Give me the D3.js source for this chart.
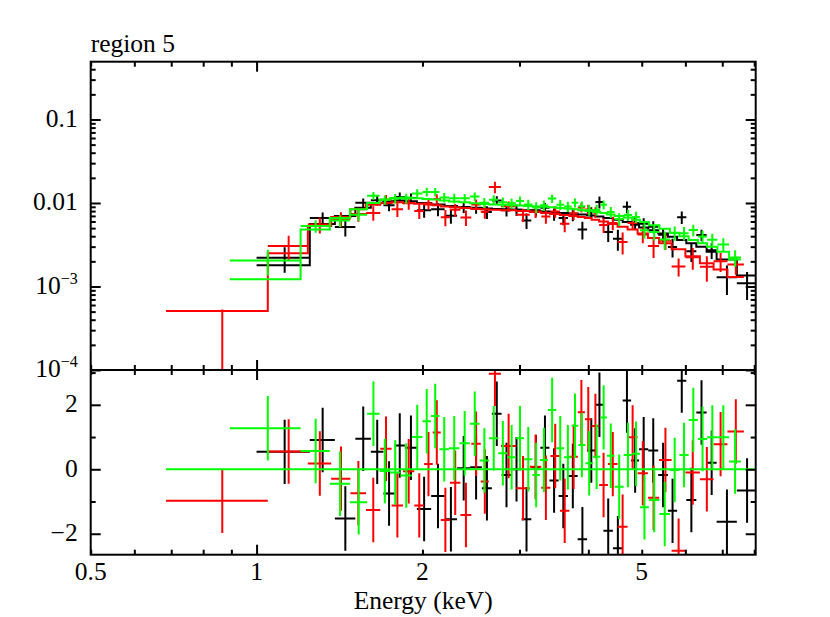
<!DOCTYPE html>
<html>
<head>
<meta charset="utf-8">
<script src="https://cdn.jsdelivr.net/npm/d3@7"></script>
<style>
    body { margin: 0; background: #fff; }
    #spectrum-vis { width: 830px; height: 617px; }
    text { font-family: "Liberation Serif", "Times New Roman", serif; fill: #000; }
</style>
</head>
<body>
<div id="spectrum-vis"></div>
<script>

// Plot title and axis ranges
const plotTitle = "region 5";
const xLabel = "Energy (keV)";
const energyRange = [0.5, 8.05];
const rateRange = [1e-4, 0.492];
const residRange = [-2.65, 3.08];

// Tick labels
const energyTicks = [0.5, 1, 2, 5];
const energyTickLabels = ["0.5", "1", "2", "5"];
const rateTicks = [0.1, 0.01, 0.001, 0.0001];
const rateTickBase = ["0.1", "0.01", "10", "10"];
const rateTickSup = ["", "", "\u22123", "\u22124"];
const residTicks = [-2, 0, 2];
const residTickLabels = ["\u22122", "0", "2"];
const residMinorTicks = [-1, 1, 3];

// Black data set: bin edges (keV), rate, error, folded model, (data-model)/error
const blackEdges = [1.000, 1.249, 1.387, 1.511, 1.612, 1.699, 1.780, 1.858, 1.954, 2.074, 2.194,
    2.311, 2.441, 2.564, 2.673, 2.784, 2.899, 3.027, 3.152, 3.274, 3.400, 3.533, 3.673, 3.825,
    3.979, 4.120, 4.260, 4.433, 4.618, 4.783, 4.945, 5.137, 5.356, 5.578, 5.797, 6.024, 6.281,
    6.557, 6.837, 7.440, 8.090];
const blackData = [0.00221, 0.00660, 0.00516, 0.01004, 0.01076, 0.00941, 0.01181, 0.01151, 0.00816,
    0.00840, 0.00703, 0.00894, 0.00878, 0.00780, 0.01074, 0.00817, 0.00830, 0.00619, 0.00818,
    0.00874, 0.00736, 0.00660, 0.00725, 0.00480, 0.00777, 0.01030, 0.00450, 0.00373, 0.00899,
    0.00576, 0.00566, 0.00519, 0.00416, 0.00298, 0.00676, 0.00265, 0.00413, 0.00272, 0.00129, 0.00109];
const blackErr = [0.00075, 0.00110, 0.00120, 0.00130, 0.00140, 0.00145, 0.00150, 0.00150, 0.00150,
    0.00145, 0.00140, 0.00135, 0.00135, 0.00135, 0.00130, 0.00130, 0.00130, 0.00130, 0.00130,
    0.00125, 0.00125, 0.00120, 0.00120, 0.00115, 0.00115, 0.00170, 0.00110, 0.00105, 0.00145,
    0.00095, 0.00090, 0.00085, 0.00080, 0.00075, 0.00115, 0.00068, 0.00064, 0.00058, 0.00050, 0.00040];
const blackModel = [0.00180, 0.00560, 0.00700, 0.00880, 0.01000, 0.01050, 0.01070, 0.01050, 0.01000,
    0.00960, 0.00920, 0.00890, 0.00870, 0.00860, 0.00850, 0.00840, 0.00830, 0.00820, 0.00810,
    0.00790, 0.00780, 0.00760, 0.00750, 0.00730, 0.00710, 0.00690, 0.00660, 0.00630, 0.00590,
    0.00550, 0.00510, 0.00470, 0.00430, 0.00395, 0.00360, 0.00330, 0.00300, 0.00260, 0.00210, 0.00135];
const blackResid = [0.54, 0.91, -1.53, 0.95, 0.54, -0.75, 0.74, 0.67, -1.23, -0.83, -1.55, 0.03,
    0.06, -0.59, 1.72, -0.18, 0.00, -1.55, 0.06, 0.67, -0.35, -0.83, -0.21, -2.17, 0.58, 2.00,
    -1.91, -2.45, 2.13, 0.27, 0.62, 0.58, -0.18, -1.29, 2.75, -0.95, 1.76, 0.20, -1.63, -0.66];

// Red data set
const redEdges = [0.685, 1.048, 1.239, 1.366, 1.480, 1.580, 1.677, 1.758, 1.844, 1.933, 2.014,
    2.088, 2.159, 2.243, 2.344, 2.453, 2.552, 2.639, 2.776, 2.958, 3.132, 3.286, 3.414, 3.552,
    3.696, 3.828, 3.943, 4.055, 4.185, 4.341, 4.520, 4.713, 4.914, 5.131, 5.376, 5.665, 6.001,
    6.376, 6.751, 7.153, 7.663];
const redData = [0.00001, 0.00305, 0.00552, 0.00642, 0.00736, 0.00761, 0.01096, 0.00841, 0.00990,
    0.00801, 0.00985, 0.01117, 0.00675, 0.00829, 0.00671, 0.00961, 0.00787, 0.01550, 0.00914,
    0.00723, 0.00790, 0.00689, 0.00791, 0.00565, 0.00747, 0.00884, 0.00838, 0.00777, 0.00546,
    0.00577, 0.00342, 0.00574, 0.00419, 0.00305, 0.00353, 0.00174, 0.00224, 0.00172, 0.00201, 0.00183];
const redErr = [0.00052, 0.00100, 0.00120, 0.00130, 0.00140, 0.00150, 0.00150, 0.00160, 0.00160,
    0.00160, 0.00155, 0.00155, 0.00150, 0.00145, 0.00140, 0.00140, 0.00140, 0.00240, 0.00130,
    0.00130, 0.00130, 0.00125, 0.00125, 0.00120, 0.00120, 0.00115, 0.00115, 0.00110, 0.00110,
    0.00105, 0.00100, 0.00095, 0.00090, 0.00085, 0.00080, 0.00042, 0.00065, 0.00058, 0.00052, 0.00045];
const redModel = [0.00051, 0.00250, 0.00530, 0.00680, 0.00840, 0.00950, 0.01000, 0.01020, 0.01000,
    0.00980, 0.00960, 0.00940, 0.00910, 0.00890, 0.00870, 0.00850, 0.00840, 0.00830, 0.00820,
    0.00800, 0.00780, 0.00760, 0.00740, 0.00720, 0.00700, 0.00680, 0.00660, 0.00630, 0.00600,
    0.00560, 0.00520, 0.00480, 0.00430, 0.00380, 0.00330, 0.00280, 0.00230, 0.00190, 0.00160, 0.00130];
const redResid = [-0.98, 0.55, 0.18, -0.29, -0.74, -1.26, 0.64, -1.12, -0.06, -1.12, 0.16, 1.14,
    -1.57, -0.42, -1.42, 0.79, -0.38, 2.96, 0.72, -0.59, 0.08, -0.57, 0.41, -1.29, 0.39, 1.77,
    1.55, 1.34, -0.49, 0.16, -1.78, 0.99, -0.12, -0.88, 0.29, -2.53, -0.10, -0.31, 0.78, 1.17];

// Green data set
const greenEdges = [0.894, 1.202, 1.358, 1.477, 1.587, 1.672, 1.746, 1.824, 1.914, 2.000, 2.072,
    2.147, 2.234, 2.334, 2.438, 2.539, 2.642, 2.746, 2.851, 2.955, 3.058, 3.166, 3.267, 3.378,
    3.499, 3.615, 3.730, 3.836, 3.951, 4.077, 4.205, 4.323, 4.464, 4.637, 4.803, 4.962, 5.152,
    5.383, 5.625, 5.852, 6.082, 6.323, 6.571, 6.860, 7.203, 7.568];
const greenData = [0.00205, 0.00531, 0.00615, 0.00723, 0.01224, 0.01093, 0.01135, 0.01131, 0.01300,
    0.01358, 0.01356, 0.01163, 0.01138, 0.01137, 0.01194, 0.01008, 0.01094, 0.01020, 0.00992,
    0.01060, 0.00962, 0.00886, 0.00939, 0.01129, 0.00955, 0.00908, 0.01009, 0.00914, 0.00823,
    0.00827, 0.00953, 0.00778, 0.00641, 0.00718, 0.00680, 0.00472, 0.00450, 0.00365, 0.00438,
    0.00435, 0.00475, 0.00396, 0.00364, 0.00319, 0.00222];
const greenErr = [0.00070, 0.00090, 0.00100, 0.00115, 0.00130, 0.00140, 0.00150, 0.00155, 0.00160,
    0.00160, 0.00155, 0.00150, 0.00150, 0.00145, 0.00145, 0.00140, 0.00140, 0.00140, 0.00140,
    0.00135, 0.00135, 0.00135, 0.00135, 0.00130, 0.00130, 0.00130, 0.00125, 0.00125, 0.00120,
    0.00120, 0.00120, 0.00115, 0.00110, 0.00110, 0.00105, 0.00100, 0.00095, 0.00090, 0.00085,
    0.00080, 0.00075, 0.00070, 0.00065, 0.00060, 0.00050];
const greenModel = [0.00122, 0.00480, 0.00660, 0.00840, 0.01000, 0.01100, 0.01150, 0.01160, 0.01140,
    0.01120, 0.01100, 0.01070, 0.01040, 0.01020, 0.00990, 0.00970, 0.00960, 0.00950, 0.00940,
    0.00930, 0.00920, 0.00910, 0.00900, 0.00890, 0.00870, 0.00860, 0.00840, 0.00820, 0.00800,
    0.00780, 0.00760, 0.00730, 0.00700, 0.00670, 0.00630, 0.00590, 0.00540, 0.00490, 0.00440,
    0.00400, 0.00360, 0.00330, 0.00300, 0.00260, 0.00210];
const greenResid = [1.27, 0.57, -0.45, -1.02, 1.72, -0.05, -0.10, -0.19, 1.00, 1.49, 1.65, 0.62,
    0.65, 0.81, 1.41, 0.27, 0.96, 0.50, 0.37, 0.96, 0.31, -0.18, 0.29, 1.84, 0.65, 0.37, 1.35,
    0.75, 0.19, 0.39, 1.61, 0.42, -0.54, 0.44, 0.48, -1.18, -0.95, -1.39, -0.02, 0.44, 1.53,
    0.94, 0.99, 0.99, 0.24];

const datasets = [
    {color: "#000000", edges: blackEdges, data: blackData, err: blackErr, model: blackModel, resid: blackResid},
    {color: "#ff0000", edges: redEdges, data: redData, err: redErr, model: redModel, resid: redResid},
    {color: "#00ff00", edges: greenEdges, data: greenData, err: greenErr, model: greenModel, resid: greenResid}
];


/*
* SpectrumVis
* @param parentElement - Parent HTML element where the vis gets drawn
* @param datasets      - Binned spectra with model and residuals
*/
class SpectrumVis {
    constructor(parentElement, datasets) {
        this.parentElement = parentElement;
        this.datasets = datasets;

        this.initVis();
    }

    initVis() {
        let vis = this;

        // Margin Convention
        vis.margin = {top: 61.7, right: 74.3, bottom: 62.3, left: 90.7};
        vis.width = 830 - vis.margin.left - vis.margin.right;
        vis.height = 617 - vis.margin.top - vis.margin.bottom;
        vis.topHeight = 308.3;

        vis.svg = d3.select("#" + vis.parentElement).append("svg")
            .attr("width", 830)
            .attr("height", 617)
            .append("g")
            .attr("transform", "translate(" + vis.margin.left + "," + vis.margin.top + ")");

        // Scales
        vis.x = d3.scaleLog().domain(energyRange).range([0, vis.width]);
        vis.yTop = d3.scaleLog().domain(rateRange).range([vis.topHeight, 0]);
        vis.yRes = d3.scaleLinear().domain(residRange).range([vis.height, vis.topHeight]);

        // Clip regions for the two panels
        let defs = vis.svg.append("defs");
        defs.append("clipPath").attr("id", "clip-top")
            .append("rect").attr("width", vis.width).attr("height", vis.topHeight);
        defs.append("clipPath").attr("id", "clip-bot")
            .append("rect").attr("y", vis.topHeight).attr("width", vis.width)
            .attr("height", vis.height - vis.topHeight);

        vis.topGroup = vis.svg.append("g").attr("clip-path", "url(#clip-top)");
        vis.botGroup = vis.svg.append("g").attr("clip-path", "url(#clip-bot)");

        vis.drawAxes();
        vis.updateVis();
    }

    drawTicks(axis, tx, ty, values, size) {
        let vis = this;
        vis.svg.append("g")
            .attr("transform", "translate(" + tx + "," + ty + ")")
            .call(axis.tickValues(values).tickSize(-size).tickSizeOuter(0).tickFormat(""))
            .call(g => g.select(".domain").remove())
            .call(g => g.selectAll("line").attr("stroke", "#000").attr("stroke-width", 2));
    }

    drawAxes() {
        let vis = this;

        let isDecade = v => Math.abs(Math.log10(v) - Math.round(Math.log10(v))) < 1e-9;
        let xAll = vis.x.ticks();
        let xMajor = xAll.filter(isDecade);
        let xMinor = xAll.filter(v => !isDecade(v));
        let yAll = vis.yTop.ticks();
        let yMajor = yAll.filter(isDecade);
        let yMinor = yAll.filter(v => !isDecade(v));

        // x ticks: top of spectrum panel, both sides of the divider, bottom
        [[d3.axisTop, 0], [d3.axisBottom, vis.topHeight], [d3.axisTop, vis.topHeight], [d3.axisBottom, vis.height]]
            .forEach(([gen, y]) => {
                vis.drawTicks(gen(vis.x), 0, y, xMajor, 10);
                vis.drawTicks(gen(vis.x), 0, y, xMinor, 5);
            });

        // y ticks on both sides
        [[d3.axisLeft, 0], [d3.axisRight, vis.width]].forEach(([gen, x]) => {
            vis.drawTicks(gen(vis.yTop), x, 0, yMajor, 10);
            vis.drawTicks(gen(vis.yTop), x, 0, yMinor, 5);
            vis.drawTicks(gen(vis.yRes), x, 0, residTicks, 10);
            vis.drawTicks(gen(vis.yRes), x, 0, residMinorTicks, 5);
        });

        // Frame and panel divider
        vis.svg.append("rect")
            .attr("width", vis.width).attr("height", vis.height)
            .attr("fill", "none").attr("stroke", "#000").attr("stroke-width", 2);
        vis.svg.append("line")
            .attr("x1", 0).attr("x2", vis.width)
            .attr("y1", vis.topHeight).attr("y2", vis.topHeight)
            .attr("stroke", "#000").attr("stroke-width", 2);

        // Labels
        let fs = "25.5px";
        vis.svg.selectAll(".x-label").data(energyTicks).join("text")
            .attr("class", "x-label")
            .attr("x", d => vis.x(d)).attr("y", vis.height + 25.5)
            .attr("text-anchor", "middle").style("font-size", fs)
            .text((d, i) => energyTickLabels[i]);

        let rl = vis.svg.selectAll(".rate-label").data(rateTicks).join("text")
            .attr("class", "rate-label")
            .attr("x", -13).attr("y", d => vis.yTop(d) + 7.5)
            .attr("text-anchor", "end").style("font-size", fs);
        rl.append("tspan").text((d, i) => rateTickBase[i]);
        rl.append("tspan").attr("dy", -10).style("font-size", "16px").text((d, i) => rateTickSup[i]);

        vis.svg.selectAll(".res-label").data(residTicks).join("text")
            .attr("class", "res-label")
            .attr("x", -13).attr("y", d => vis.yRes(d) + 7.5)
            .attr("text-anchor", "end").style("font-size", fs)
            .text((d, i) => residTickLabels[i]);

        vis.svg.append("text")
            .attr("x", vis.width / 2).attr("y", vis.height + 54)
            .attr("text-anchor", "middle").style("font-size", fs)
            .text(xLabel);

        vis.svg.append("text")
            .attr("x", 0).attr("y", -10)
            .style("font-size", fs)
            .text(plotTitle);
    }

    updateVis() {
        let vis = this;
        let floor = 1e-7;

        vis.datasets.forEach(ds => {
            let bins = d3.range(ds.data.length).map(i => ({
                lo: ds.edges[i], hi: ds.edges[i + 1], mid: (ds.edges[i] + ds.edges[i + 1]) / 2,
                val: ds.data[i], err: ds.err[i], model: ds.model[i], res: ds.resid[i]
            }));

            // Folded model as a step line
            let steps = bins.flatMap(d => [[d.lo, d.model], [d.hi, d.model]]);
            vis.topGroup.append("path")
                .datum(steps)
                .attr("fill", "none").attr("stroke", ds.color).attr("stroke-width", 2)
                .attr("d", d3.line().x(d => vis.x(d[0])).y(d => vis.yTop(d[1])));

            // Data crosses
            let gTop = vis.topGroup.append("g").attr("stroke", ds.color).attr("stroke-width", 2);
            gTop.selectAll(".h").data(bins).join("line").attr("class", "h")
                .attr("x1", d => vis.x(d.lo)).attr("x2", d => vis.x(d.hi))
                .attr("y1", d => vis.yTop(Math.max(d.val, floor))).attr("y2", d => vis.yTop(Math.max(d.val, floor)));
            gTop.selectAll(".v").data(bins).join("line").attr("class", "v")
                .attr("x1", d => vis.x(d.mid)).attr("x2", d => vis.x(d.mid))
                .attr("y1", d => vis.yTop(Math.max(d.val - d.err, floor)))
                .attr("y2", d => vis.yTop(d.val + d.err));

            // Residual crosses
            let gBot = vis.botGroup.append("g").attr("stroke", ds.color).attr("stroke-width", 2);
            gBot.selectAll(".h").data(bins).join("line").attr("class", "h")
                .attr("x1", d => vis.x(d.lo)).attr("x2", d => vis.x(d.hi))
                .attr("y1", d => vis.yRes(d.res)).attr("y2", d => vis.yRes(d.res));
            gBot.selectAll(".v").data(bins).join("line").attr("class", "v")
                .attr("x1", d => vis.x(d.mid)).attr("x2", d => vis.x(d.mid))
                .attr("y1", d => vis.yRes(d.res - 1)).attr("y2", d => vis.yRes(d.res + 1));
        });

        // zero line over the full energy span
        let eMin = d3.min(vis.datasets, ds => ds.edges[0]);
        let eMax = d3.max(vis.datasets, ds => ds.edges[ds.edges.length - 1]);
        let last = vis.datasets[vis.datasets.length - 1];
        vis.botGroup.append("line")
            .attr("x1", vis.x(eMin)).attr("x2", vis.x(eMax))
            .attr("y1", vis.yRes(0)).attr("y2", vis.yRes(0))
            .attr("stroke", last.color).attr("stroke-width", 2);
    }
}

new SpectrumVis("spectrum-vis", datasets);

</script>
</body>
</html>
